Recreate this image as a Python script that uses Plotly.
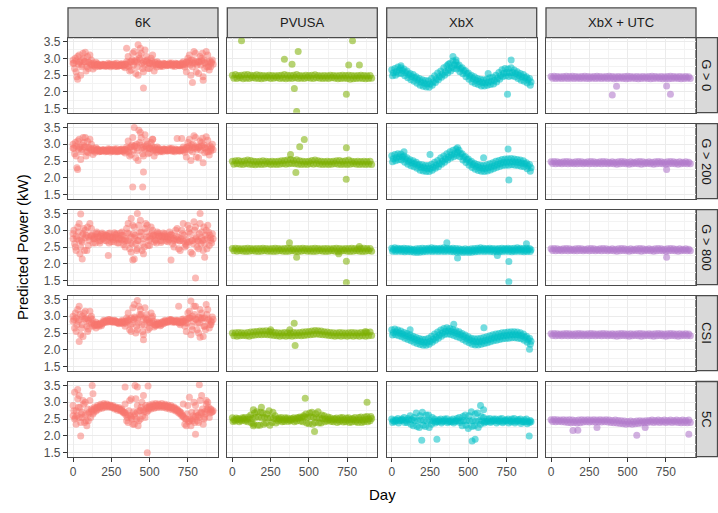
import plotly.graph_objects as go

# ---------------- data ----------------
DAYS_A = list(range(0, 901, 20))   # 46 sampling days per list
DAYS_B = list(range(10, 911, 20))
DAYS_C = list(range(5, 906, 20))
DAYS_D = list(range(15, 916, 20))
DAY_SETS = [DAYS_A, DAYS_B, DAYS_C, DAYS_D, DAYS_A]
COL_LABELS = ["6K", "PVUSA", "XbX", "XbX + UTC"]
ROW_LABELS = ["G > 0", "G > 200", "G > 800", "CSI", "5C"]
COLORS = ["#F8766D", "#7CAE00", "#00BFC4", "#B27CCB"]
X_TICKS = [0, 250, 500, 750]
Y_TICKS = [1.5, 2.0, 2.5, 3.0, 3.5]
Y_TICK_TEXT = ["1.5", "2.0", "2.5", "3.0", "3.5"]

# ---- 6K ----
K6_G0_A = [2.95, 2.6, 3.1, 2.8, 3.18, 2.7, 2.95, 2.78, 2.84, 2.78, 2.82, 2.77, 2.83, 2.79, 2.81,
           2.78, 2.84, 2.72, 3.05, 2.65, 3.2, 2.75, 3.3, 2.6, 3.05, 2.7, 3.1, 2.8, 2.86, 2.8,
           2.84, 2.79, 2.83, 2.8, 2.84, 2.78, 2.9, 2.6, 3.1, 2.75, 3.15, 2.55, 3.0, 2.7, 3.1, 2.75]
K6_G0_B = [2.7, 3.05, 2.5, 3.0, 2.75, 3.1, 2.68, 2.88, 2.76, 2.82, 2.76, 2.85, 2.78, 2.84, 2.76,
           2.83, 2.76, 2.9, 2.62, 3.15, 2.55, 3.1, 2.85, 3.25, 2.7, 3.0, 2.62, 2.9, 2.76, 2.85,
           2.78, 2.86, 2.77, 2.85, 2.78, 2.86, 2.74, 3.0, 2.5, 3.2, 2.8, 3.05, 2.45, 3.2, 2.65, 2.95]
K6_G0_C = [2.85, 2.45, 2.9, 3.15, 2.62, 2.88, 2.8, 2.74, 2.82, 2.77, 2.8, 2.81, 2.75, 2.8, 2.85,
           2.8, 2.79, 2.82, 2.75, 2.95, 2.9, 2.5, 3.15, 2.8, 2.95, 2.85, 2.8, 2.74, 2.82, 2.76,
           2.81, 2.82, 2.86, 2.76, 2.8, 2.83, 2.8, 2.9, 2.8, 2.95, 2.6, 2.9, 3.15, 2.85, 2.75, 2.88]
K6_G0_D = [3.0, 2.82, 2.75, 2.9, 3.05, 2.8, 2.86, 2.81, 2.78, 2.8, 2.79, 2.78, 2.82, 2.76, 2.79,
           2.81, 2.82, 2.78, 2.9, 2.8, 2.95, 3.0, 2.7, 2.92, 2.85, 2.92, 2.88, 2.82, 2.79, 2.83,
           2.8, 2.82, 2.8, 2.82, 2.79, 2.8, 2.82, 2.85, 2.95, 2.85, 2.9, 2.8, 2.95, 2.75, 2.92, 2.82]
K6_G0_MID = [2.85, 2.92, 2.88, 2.95, 2.9, 2.88, 2.84, 2.81, 2.8, 2.79, 2.8, 2.79, 2.81, 2.8, 2.78,
             2.78, 2.79, 2.82, 2.86, 2.9, 2.92, 2.88, 2.95, 2.9, 2.88, 2.86, 2.85, 2.83, 2.82, 2.81,
             2.82, 2.81, 2.8, 2.81, 2.82, 2.82, 2.84, 2.88, 2.92, 2.86, 2.9, 2.88, 2.93, 2.87, 2.9, 2.85]
K6_G0_OUT_D = [460, 425, 780, 350, 850, 30]
K6_G0_OUT_V = [2.12, 3.4, 2.28, 3.3, 2.35, 2.38]

K6_G200_A = [3.0, 2.65, 3.15, 2.85, 3.2, 2.75, 3.0, 2.8, 2.86, 2.8, 2.84, 2.79, 2.85, 2.8, 2.83,
             2.8, 2.86, 2.74, 3.1, 2.7, 3.5, 2.8, 3.35, 2.65, 3.1, 2.75, 3.15, 2.82, 2.88, 2.82,
             2.86, 2.8, 2.85, 2.82, 3.17, 2.8, 2.92, 2.62, 3.15, 2.78, 3.2, 2.6, 3.05, 2.75, 3.12, 2.8]
K6_G200_B = [2.72, 3.1, 2.55, 3.05, 2.78, 3.15, 2.7, 2.9, 2.78, 2.84, 2.78, 2.87, 2.8, 2.86, 2.78,
             2.85, 2.78, 2.92, 2.65, 3.2, 2.6, 3.42, 2.9, 3.28, 2.72, 3.05, 2.65, 2.92, 2.78, 2.86,
             2.8, 2.88, 2.79, 2.86, 2.8, 3.17, 2.76, 3.05, 2.52, 3.25, 2.85, 3.1, 2.45, 3.22, 2.68, 3.0]
K6_G200_C = [2.88, 2.3, 2.92, 3.2, 2.65, 2.9, 2.82, 2.76, 2.84, 2.79, 2.82, 2.83, 2.77, 2.82, 2.87,
             2.82, 2.81, 2.84, 2.77, 2.98, 2.95, 2.52, 3.2, 2.85, 3.0, 2.88, 2.82, 2.76, 2.84, 2.78,
             2.83, 2.84, 2.88, 2.78, 2.82, 2.85, 2.82, 2.92, 2.82, 3.0, 2.62, 2.92, 3.18, 2.88, 2.78, 2.9]
K6_G200_D = [3.05, 2.85, 2.78, 2.92, 3.08, 2.82, 2.88, 2.83, 2.8, 2.82, 2.81, 2.8, 2.84, 2.78, 2.81,
             2.83, 2.84, 2.8, 2.92, 2.82, 3.0, 3.05, 2.72, 2.95, 2.88, 2.95, 2.9, 2.84, 2.81, 2.85,
             2.82, 2.84, 2.82, 2.84, 2.81, 2.82, 2.84, 2.88, 2.98, 2.88, 2.92, 2.82, 2.98, 2.78, 2.95, 2.84]
K6_G200_MID = [2.88, 2.95, 2.9, 2.98, 2.92, 2.9, 2.86, 2.83, 2.82, 2.8, 2.81, 2.8, 2.82, 2.81, 2.8,
               2.79, 2.8, 2.84, 2.88, 2.92, 2.95, 2.9, 2.98, 2.92, 2.9, 2.88, 2.86, 2.84, 2.83, 2.82,
               2.83, 2.82, 2.81, 2.82, 2.83, 2.84, 2.86, 2.9, 2.95, 2.9, 2.93, 2.9, 2.95, 2.9, 2.92, 2.86]
K6_G200_OUT_D = [460, 390, 455, 30, 520]
K6_G200_OUT_V = [2.18, 1.73, 1.73, 2.25, 3.15]

K6_G800_A = [2.9, 2.4, 3.2, 2.65, 3.0, 2.55, 3.05, 2.75, 2.9, 2.7, 2.88, 2.68, 2.92, 2.72, 2.85,
             2.62, 2.95, 2.5, 3.2, 2.35, 3.1, 2.45, 3.3, 2.3, 2.95, 2.55, 3.0, 2.7, 2.92, 2.68,
             2.9, 2.66, 2.88, 2.5, 3.05, 2.4, 3.2, 2.55, 3.05, 2.3, 3.1, 2.45, 2.95, 2.6, 3.15, 2.7]
K6_G800_B = [2.6, 3.1, 2.5, 3.05, 2.4, 3.2, 2.62, 2.9, 2.68, 2.92, 2.7, 2.9, 2.66, 2.93, 2.62,
             2.92, 2.58, 3.05, 2.45, 3.15, 2.6, 3.15, 2.4, 3.05, 2.55, 3.1, 2.65, 2.95, 2.7, 2.92,
             2.68, 2.95, 2.6, 3.0, 2.45, 3.0, 2.5, 3.15, 2.35, 3.25, 2.5, 3.2, 2.4, 3.0, 2.55, 2.9]
K6_G800_C = [3.0, 2.75, 2.3, 2.9, 2.85, 2.7, 2.85, 2.62, 2.8, 2.88, 2.78, 2.84, 2.8, 2.66, 2.9,
             2.75, 2.85, 2.7, 2.9, 2.6, 2.85, 2.7, 2.95, 2.5, 3.15, 2.75, 2.85, 2.62, 2.82, 2.8,
             2.8, 2.72, 2.85, 2.7, 2.8, 2.75, 2.85, 2.65, 2.9, 2.6, 2.8, 2.9, 2.7, 2.85, 2.95, 2.62]
K6_G800_D = [2.5, 2.95, 2.7, 2.4, 3.1, 2.85, 2.75, 2.95, 2.62, 2.75, 2.85, 2.62, 2.76, 2.88, 2.72,
             2.85, 2.68, 2.92, 2.62, 2.9, 2.4, 2.95, 2.6, 3.2, 2.7, 2.9, 2.72, 2.88, 2.64, 2.86,
             2.74, 2.86, 2.7, 2.82, 2.68, 2.9, 2.6, 2.95, 2.7, 3.0, 2.7, 2.6, 3.1, 2.45, 2.85, 2.75]
K6_G800_MID = [2.75, 2.82, 2.7, 2.85, 2.78, 2.8, 2.82, 2.81, 2.8, 2.82, 2.83, 2.82, 2.8, 2.79, 2.78,
               2.76, 2.72, 2.75, 2.7, 2.8, 2.78, 2.7, 2.82, 2.75, 2.8, 2.82, 2.83, 2.84, 2.83, 2.82,
               2.82, 2.8, 2.78, 2.75, 2.72, 2.7, 2.68, 2.72, 2.65, 2.7, 2.75, 2.68, 2.78, 2.72, 2.76, 2.78]
K6_G800_OUT_D = [800, 60, 230, 640, 860, 50, 420, 830, 380, 390, 400]
K6_G800_OUT_V = [1.58, 2.15, 2.25, 2.12, 2.2, 3.48, 3.5, 3.5, 3.35, 2.12, 2.15]

K6_CSI_A = [3.0, 2.55, 3.3, 2.75, 3.15, 2.62, 3.0, 2.72, 2.78, 2.8, 2.88, 2.82, 2.9, 2.84, 2.86,
            2.78, 2.88, 2.7, 3.1, 2.55, 3.35, 2.6, 3.2, 2.45, 3.05, 2.65, 3.0, 2.72, 2.8, 2.82,
            2.88, 2.82, 2.9, 2.84, 2.88, 2.75, 2.92, 2.55, 3.15, 2.6, 3.3, 2.5, 3.1, 2.7, 3.2, 2.75]
K6_CSI_B = [2.65, 3.2, 2.45, 3.1, 2.7, 3.15, 2.7, 2.82, 2.7, 2.76, 2.82, 2.9, 2.83, 2.88, 2.8,
            2.84, 2.78, 2.95, 2.6, 3.25, 2.5, 3.3, 2.75, 3.25, 2.6, 3.1, 2.68, 2.82, 2.72, 2.78,
            2.82, 2.9, 2.82, 2.88, 2.8, 2.9, 2.7, 3.1, 2.45, 3.3, 2.6, 3.2, 2.4, 3.35, 2.65, 2.98]
K6_CSI_C = [2.9, 2.75, 3.05, 2.4, 2.95, 2.8, 2.9, 2.76, 2.75, 2.72, 2.85, 2.86, 2.86, 2.82, 2.84,
            2.82, 2.85, 2.8, 2.88, 2.78, 2.95, 2.8, 3.05, 2.75, 2.9, 2.8, 2.85, 2.76, 2.77, 2.84,
            2.86, 2.85, 2.88, 2.82, 2.86, 2.8, 2.85, 2.8, 2.95, 2.85, 2.9, 2.8, 2.95, 2.6, 2.92, 2.82]
K6_CSI_D = [3.1, 2.85, 2.65, 2.92, 2.55, 2.95, 2.78, 2.74, 2.76, 2.8, 2.87, 2.84, 2.88, 2.86, 2.82,
            2.8, 2.82, 2.86, 2.75, 2.9, 2.7, 3.05, 2.55, 2.95, 2.8, 2.95, 2.75, 2.78, 2.74, 2.8,
            2.84, 2.88, 2.86, 2.84, 2.83, 2.84, 2.8, 2.95, 2.7, 3.05, 2.8, 2.95, 2.7, 3.05, 2.75, 2.9]
K6_CSI_MID = [2.85, 2.95, 2.9, 3.0, 2.92, 2.88, 2.8, 2.74, 2.73, 2.78, 2.83, 2.86, 2.86, 2.85, 2.82,
              2.8, 2.82, 2.85, 2.9, 2.95, 2.98, 2.9, 3.0, 2.92, 2.88, 2.84, 2.8, 2.74, 2.76, 2.8,
              2.84, 2.86, 2.86, 2.85, 2.84, 2.82, 2.86, 2.9, 2.95, 3.0, 2.92, 2.98, 2.9, 2.95, 2.88, 2.85]
K6_CSI_OUT_D = [40, 150, 460, 690, 830, 420, 770]
K6_CSI_OUT_V = [2.25, 2.65, 2.3, 3.3, 2.38, 3.47, 3.45]

K6_5C_A = [2.9, 2.35, 3.2, 2.55, 3.0, 2.45, 2.8, 2.86, 2.9, 2.94, 2.96, 2.95, 2.92, 2.9, 2.86,
           2.84, 2.8, 2.95, 2.4, 3.1, 2.35, 2.9, 2.5, 3.2, 2.7, 2.92, 2.95, 2.96, 2.95, 2.96,
           2.94, 2.92, 2.9, 2.86, 2.8, 2.72, 2.95, 2.3, 3.15, 2.45, 2.9, 2.4, 3.2, 2.55, 3.0, 2.8]
K6_5C_B = [2.5, 3.1, 2.4, 2.95, 2.3, 3.05, 2.65, 2.74, 2.8, 2.82, 2.85, 2.86, 2.84, 2.8, 2.76,
           2.74, 2.68, 2.45, 3.05, 2.35, 3.1, 2.45, 3.0, 2.55, 2.75, 2.8, 2.82, 2.84, 2.85, 2.84,
           2.82, 2.8, 2.78, 2.74, 2.68, 2.6, 2.35, 2.9, 2.3, 3.0, 2.45, 3.05, 2.35, 2.95, 2.55, 2.72]
K6_5C_C = [2.75, 2.6, 2.85, 3.05, 2.45, 2.7, 2.76, 2.82, 2.86, 2.9, 2.92, 2.92, 2.9, 2.86, 2.82,
           2.8, 2.72, 2.62, 2.75, 2.5, 2.65, 2.3, 2.85, 2.72, 2.85, 2.88, 2.9, 2.92, 2.92, 2.9,
           2.9, 2.88, 2.86, 2.82, 2.76, 2.68, 2.55, 2.65, 2.5, 2.6, 2.7, 2.55, 2.8, 2.65, 2.85, 2.7]
K6_5C_D = [2.55, 2.85, 2.65, 2.4, 2.8, 2.55, 2.7, 2.78, 2.84, 2.86, 2.88, 2.88, 2.86, 2.83, 2.8,
           2.77, 2.7, 2.55, 2.6, 2.72, 2.5, 2.75, 2.6, 2.9, 2.8, 2.84, 2.86, 2.88, 2.88, 2.88,
           2.86, 2.84, 2.82, 2.78, 2.72, 2.62, 2.5, 2.42, 2.7, 2.4, 2.6, 2.7, 2.5, 2.8, 2.68, 2.75]
K6_5C_MID = [2.6, 2.75, 2.55, 2.7, 2.62, 2.65, 2.72, 2.8, 2.85, 2.88, 2.9, 2.9, 2.88, 2.85, 2.82,
             2.8, 2.75, 2.68, 2.62, 2.55, 2.6, 2.7, 2.75, 2.78, 2.82, 2.86, 2.88, 2.9, 2.9, 2.9,
             2.88, 2.86, 2.84, 2.8, 2.74, 2.66, 2.58, 2.5, 2.45, 2.5, 2.58, 2.62, 2.68, 2.72, 2.76, 2.78]
K6_5C_OUT_D = [485, 30, 10, 130, 340, 420, 870, 125, 405, 490, 825, 50, 800]
K6_5C_OUT_V = [1.5, 3.38, 3.3, 3.25, 3.45, 3.45, 3.05, 3.5, 3.5, 3.48, 3.52, 2.0, 2.05]

# ---- PVUSA ----
PV_G0_A = [2.5, 2.52, 2.49, 2.5, 2.51, 2.52, 2.5, 2.49, 2.51, 2.5, 2.49, 2.48, 2.5, 2.49, 2.48,
           2.49, 2.5, 2.52, 2.5, 2.49, 2.5, 2.52, 2.49, 2.48, 2.5, 2.49, 2.5, 2.51, 2.49, 2.48,
           2.49, 2.48, 2.5, 2.49, 2.48, 2.49, 2.5, 2.49, 2.5, 2.49, 2.48, 2.49, 2.5, 2.49, 2.48, 2.49]
PV_G0_B = [2.41, 2.4, 2.42, 2.39, 2.41, 2.4, 2.42, 2.41, 2.4, 2.39, 2.41, 2.42, 2.4, 2.41, 2.42,
           2.4, 2.41, 2.39, 2.41, 2.4, 2.42, 2.4, 2.41, 2.4, 2.42, 2.41, 2.4, 2.42, 2.41, 2.4,
           2.41, 2.4, 2.42, 2.41, 2.39, 2.4, 2.41, 2.4, 2.38, 2.39, 2.4, 2.41, 2.4, 2.39, 2.4, 2.41]
PV_G0_OUT_D = [60, 785, 430, 340, 390, 405, 745, 760, 830, 420]
PV_G0_OUT_V = [3.52, 3.52, 3.2, 2.97, 2.82, 2.1, 1.93, 2.8, 2.8, 1.42]

PV_G200_A = [2.5, 2.51, 2.52, 2.5, 2.51, 2.53, 2.52, 2.5, 2.49, 2.5, 2.51, 2.5, 2.49, 2.5, 2.49,
             2.5, 2.51, 2.52, 2.53, 2.55, 2.52, 2.54, 2.51, 2.5, 2.49, 2.5, 2.52, 2.53, 2.51, 2.5,
             2.49, 2.5, 2.49, 2.5, 2.51, 2.52, 2.5, 2.51, 2.53, 2.5, 2.49, 2.5, 2.49, 2.5, 2.49, 2.5]
PV_G200_B = [2.41, 2.42, 2.41, 2.4, 2.42, 2.41, 2.4, 2.39, 2.41, 2.4, 2.41, 2.42, 2.4, 2.41, 2.4,
             2.41, 2.42, 2.41, 2.42, 2.43, 2.42, 2.41, 2.4, 2.41, 2.4, 2.42, 2.41, 2.42, 2.41, 2.4,
             2.41, 2.4, 2.41, 2.42, 2.41, 2.4, 2.41, 2.4, 2.41, 2.42, 2.41, 2.4, 2.41, 2.4, 2.41, 2.4]
PV_G200_OUT_D = [470, 440, 745, 415, 744, 380]
PV_G200_OUT_V = [3.14, 2.93, 2.9, 2.16, 1.96, 2.7]

PV_G800_A = [2.46, 2.47, 2.46, 2.45, 2.46, 2.47, 2.46, 2.45, 2.46, 2.46, 2.47, 2.46, 2.45, 2.46, 2.47,
             2.46, 2.45, 2.46, 2.47, 2.46, 2.45, 2.46, 2.46, 2.47, 2.46, 2.45, 2.46, 2.47, 2.46, 2.45,
             2.46, 2.46, 2.45, 2.46, 2.47, 2.46, 2.45, 2.46, 2.46, 2.47, 2.46, 2.45, 2.46, 2.47, 2.46, 2.46]
PV_G800_B = [2.39, 2.38, 2.39, 2.38, 2.37, 2.38, 2.39, 2.38, 2.37, 2.38, 2.39, 2.38, 2.38, 2.37, 2.38,
             2.39, 2.38, 2.37, 2.38, 2.39, 2.38, 2.37, 2.38, 2.39, 2.38, 2.38, 2.37, 2.38, 2.39, 2.38,
             2.37, 2.38, 2.39, 2.38, 2.37, 2.38, 2.39, 2.38, 2.37, 2.38, 2.39, 2.38, 2.37, 2.38, 2.39, 2.38]
PV_G800_OUT_D = [373, 420, 695, 745, 745, 830]
PV_G800_OUT_V = [2.63, 2.2, 2.3, 2.08, 1.45, 2.52]

PV_CSI_A = [2.5, 2.51, 2.52, 2.51, 2.5, 2.52, 2.53, 2.54, 2.55, 2.56, 2.56, 2.57, 2.55, 2.53, 2.52,
            2.51, 2.5, 2.52, 2.51, 2.5, 2.52, 2.51, 2.52, 2.53, 2.54, 2.55, 2.56, 2.58, 2.57, 2.56,
            2.54, 2.53, 2.52, 2.51, 2.5, 2.52, 2.51, 2.5, 2.51, 2.52, 2.51, 2.5, 2.52, 2.51, 2.52, 2.53]
PV_CSI_B = [2.42, 2.41, 2.42, 2.43, 2.42, 2.41, 2.43, 2.44, 2.45, 2.45, 2.46, 2.45, 2.44, 2.43, 2.42,
            2.41, 2.42, 2.41, 2.42, 2.41, 2.42, 2.43, 2.42, 2.43, 2.44, 2.45, 2.46, 2.47, 2.46, 2.45,
            2.44, 2.43, 2.42, 2.41, 2.42, 2.41, 2.42, 2.41, 2.42, 2.41, 2.42, 2.41, 2.42, 2.41, 2.42, 2.43]
PV_CSI_OUT_D = [404, 410, 375, 870, 250]
PV_CSI_OUT_V = [2.79, 2.13, 2.6, 2.55, 2.6]

PV_5C_A = [2.54, 2.44, 2.52, 2.45, 2.55, 2.42, 2.62, 2.35, 2.72, 2.32, 2.68, 2.38, 2.75, 2.4, 2.6,
           2.44, 2.55, 2.43, 2.53, 2.45, 2.54, 2.44, 2.56, 2.42, 2.65, 2.36, 2.7, 2.4, 2.72, 2.38,
           2.6, 2.44, 2.54, 2.42, 2.53, 2.43, 2.55, 2.42, 2.54, 2.41, 2.55, 2.4, 2.56, 2.42, 2.58, 2.45]
PV_5C_MID = [2.48, 2.49, 2.48, 2.5, 2.49, 2.5, 2.52, 2.55, 2.56, 2.54, 2.55, 2.53, 2.54, 2.52, 2.5,
             2.49, 2.48, 2.49, 2.48, 2.49, 2.5, 2.52, 2.54, 2.56, 2.55, 2.57, 2.55, 2.54, 2.53, 2.51,
             2.5, 2.49, 2.48, 2.49, 2.48, 2.47, 2.48, 2.47, 2.49, 2.48, 2.47, 2.48, 2.47, 2.49, 2.5, 2.52]
PV_5C_B = [2.43, 2.53, 2.42, 2.54, 2.44, 2.56, 2.38, 2.68, 2.32, 2.7, 2.35, 2.65, 2.32, 2.7, 2.38,
           2.53, 2.42, 2.54, 2.43, 2.52, 2.42, 2.55, 2.44, 2.6, 2.38, 2.68, 2.35, 2.66, 2.38, 2.62,
           2.42, 2.56, 2.43, 2.52, 2.4, 2.54, 2.41, 2.53, 2.4, 2.52, 2.42, 2.55, 2.4, 2.56, 2.42, 2.58]
PV_5C_OUT_D = [476, 880, 537, 190, 137, 137]
PV_5C_OUT_V = [3.12, 3.0, 2.13, 2.85, 2.78, 2.3]

# ---- XbX ----
XB_G0_HI = [2.66, 2.7, 2.74, 2.72, 2.68, 2.62, 2.55, 2.52, 2.45, 2.4, 2.36, 2.34, 2.33, 2.4, 2.48,
            2.56, 2.62, 2.72, 2.78, 2.85, 2.92, 2.88, 2.8, 2.72, 2.64, 2.56, 2.5, 2.45, 2.4, 2.38,
            2.36, 2.38, 2.42, 2.44, 2.5, 2.58, 2.66, 2.7, 2.68, 2.72, 2.65, 2.6, 2.55, 2.52, 2.45, 2.4]
XB_G0_MID = [2.57, 2.6, 2.65, 2.64, 2.58, 2.52, 2.46, 2.42, 2.36, 2.3, 2.27, 2.24, 2.24, 2.3, 2.38,
             2.45, 2.53, 2.6, 2.66, 2.73, 2.8, 2.78, 2.7, 2.63, 2.55, 2.47, 2.4, 2.35, 2.31, 2.28,
             2.27, 2.29, 2.32, 2.34, 2.4, 2.48, 2.55, 2.58, 2.57, 2.58, 2.55, 2.5, 2.45, 2.42, 2.36, 2.3]
XB_G0_LO = [2.48, 2.5, 2.55, 2.55, 2.48, 2.42, 2.36, 2.32, 2.26, 2.2, 2.17, 2.15, 2.14, 2.2, 2.28,
            2.36, 2.44, 2.5, 2.56, 2.62, 2.7, 2.68, 2.6, 2.54, 2.45, 2.38, 2.3, 2.25, 2.22, 2.18,
            2.18, 2.2, 2.22, 2.24, 2.3, 2.38, 2.45, 2.48, 2.46, 2.48, 2.45, 2.4, 2.35, 2.32, 2.27, 2.2]
XB_G0_OUT_D = [756, 400, 420, 780, 630, 370, 60]
XB_G0_OUT_V = [1.93, 3.05, 2.95, 2.95, 2.55, 2.82, 2.78]

XB_G200_HI = [2.66, 2.7, 2.72, 2.71, 2.65, 2.6, 2.54, 2.51, 2.47, 2.41, 2.39, 2.37, 2.37, 2.41, 2.47,
              2.52, 2.6, 2.65, 2.72, 2.78, 2.82, 2.86, 2.82, 2.72, 2.64, 2.56, 2.5, 2.44, 2.4, 2.38,
              2.37, 2.39, 2.42, 2.45, 2.5, 2.52, 2.55, 2.56, 2.57, 2.58, 2.56, 2.55, 2.53, 2.51, 2.45, 2.4]
XB_G200_MID = [2.57, 2.6, 2.63, 2.62, 2.56, 2.5, 2.45, 2.42, 2.38, 2.32, 2.3, 2.28, 2.28, 2.32, 2.38,
               2.42, 2.5, 2.56, 2.62, 2.68, 2.72, 2.76, 2.72, 2.62, 2.55, 2.47, 2.4, 2.35, 2.31, 2.29,
               2.28, 2.3, 2.33, 2.36, 2.4, 2.43, 2.46, 2.47, 2.47, 2.48, 2.47, 2.46, 2.44, 2.42, 2.36, 2.3]
XB_G200_LO = [2.48, 2.51, 2.54, 2.53, 2.47, 2.41, 2.36, 2.33, 2.29, 2.23, 2.21, 2.19, 2.19, 2.23, 2.29,
              2.33, 2.41, 2.47, 2.53, 2.59, 2.63, 2.67, 2.63, 2.53, 2.46, 2.38, 2.31, 2.26, 2.22, 2.2,
              2.19, 2.21, 2.24, 2.27, 2.31, 2.34, 2.37, 2.38, 2.38, 2.39, 2.38, 2.37, 2.35, 2.33, 2.27, 2.2]
XB_G200_OUT_D = [765, 760, 430, 250, 600, 80]
XB_G200_OUT_V = [1.94, 2.86, 2.9, 2.7, 2.6, 2.78]

XB_G800_HI = [2.47, 2.48, 2.47, 2.46, 2.47, 2.46, 2.45, 2.44, 2.45, 2.46, 2.47, 2.46, 2.47, 2.48, 2.47,
              2.46, 2.47, 2.48, 2.47, 2.46, 2.47, 2.46, 2.45, 2.44, 2.45, 2.44, 2.45, 2.46, 2.47, 2.48,
              2.47, 2.46, 2.47, 2.46, 2.45, 2.46, 2.47, 2.46, 2.47, 2.46, 2.47, 2.48, 2.47, 2.46, 2.47, 2.46]
XB_G800_MID = [2.43, 2.42, 2.43, 2.42, 2.41, 2.42, 2.41, 2.4, 2.39, 2.4, 2.41, 2.42, 2.43, 2.42, 2.43,
               2.42, 2.43, 2.42, 2.43, 2.42, 2.41, 2.4, 2.4, 2.39, 2.4, 2.39, 2.4, 2.41, 2.42, 2.43,
               2.42, 2.43, 2.42, 2.41, 2.42, 2.41, 2.42, 2.43, 2.42, 2.41, 2.42, 2.43, 2.42, 2.41, 2.42, 2.42]
XB_G800_LO = [2.38, 2.37, 2.38, 2.37, 2.36, 2.37, 2.36, 2.35, 2.34, 2.35, 2.36, 2.37, 2.38, 2.37, 2.38,
              2.37, 2.38, 2.37, 2.38, 2.37, 2.36, 2.35, 2.35, 2.34, 2.35, 2.34, 2.35, 2.36, 2.37, 2.38,
              2.37, 2.38, 2.37, 2.36, 2.37, 2.36, 2.37, 2.38, 2.37, 2.36, 2.37, 2.38, 2.37, 2.36, 2.37, 2.37]
XB_G800_OUT_D = [360, 430, 690, 765, 765, 880]
XB_G800_OUT_V = [2.63, 2.18, 2.25, 2.07, 1.47, 2.6]

XB_CSI_HI = [2.6, 2.62, 2.59, 2.56, 2.52, 2.49, 2.45, 2.41, 2.37, 2.34, 2.32, 2.32, 2.35, 2.41, 2.47,
             2.53, 2.59, 2.64, 2.66, 2.64, 2.61, 2.57, 2.54, 2.49, 2.44, 2.39, 2.35, 2.33, 2.33, 2.35,
             2.37, 2.39, 2.42, 2.45, 2.47, 2.49, 2.51, 2.52, 2.53, 2.54, 2.54, 2.53, 2.51, 2.47, 2.41, 2.35]
XB_CSI_MID = [2.52, 2.53, 2.5, 2.47, 2.43, 2.4, 2.36, 2.32, 2.28, 2.25, 2.23, 2.23, 2.26, 2.32, 2.38,
              2.44, 2.5, 2.55, 2.56, 2.55, 2.52, 2.48, 2.45, 2.4, 2.35, 2.3, 2.26, 2.24, 2.24, 2.26,
              2.28, 2.3, 2.33, 2.36, 2.38, 2.4, 2.42, 2.43, 2.44, 2.45, 2.45, 2.44, 2.42, 2.38, 2.32, 2.26]
XB_CSI_LO = [2.44, 2.45, 2.42, 2.39, 2.35, 2.31, 2.27, 2.23, 2.19, 2.16, 2.14, 2.14, 2.17, 2.23, 2.29,
             2.35, 2.41, 2.46, 2.47, 2.46, 2.43, 2.39, 2.36, 2.31, 2.26, 2.21, 2.17, 2.15, 2.15, 2.17,
             2.19, 2.21, 2.24, 2.27, 2.29, 2.31, 2.33, 2.34, 2.35, 2.36, 2.36, 2.35, 2.33, 2.29, 2.23, 2.17]
XB_CSI_OUT_D = [405, 602, 900, 120]
XB_CSI_OUT_V = [2.76, 2.66, 2.02, 2.6]

XB_5C_HI = [2.5, 2.42, 2.52, 2.46, 2.55, 2.4, 2.6, 2.3, 2.68, 2.25, 2.7, 2.28, 2.62, 2.35, 2.5,
            2.42, 2.5, 2.44, 2.51, 2.43, 2.5, 2.45, 2.55, 2.3, 2.62, 2.22, 2.72, 2.3, 2.68, 2.35,
            2.55, 2.42, 2.52, 2.45, 2.5, 2.43, 2.52, 2.45, 2.5, 2.42, 2.52, 2.44, 2.5, 2.42, 2.5, 2.4]
XB_5C_MID = [2.45, 2.46, 2.45, 2.47, 2.46, 2.47, 2.48, 2.46, 2.45, 2.47, 2.46, 2.44, 2.45, 2.44, 2.43,
             2.44, 2.43, 2.44, 2.43, 2.42, 2.43, 2.44, 2.45, 2.46, 2.44, 2.45, 2.46, 2.44, 2.45, 2.44,
             2.43, 2.44, 2.43, 2.44, 2.45, 2.44, 2.43, 2.44, 2.45, 2.44, 2.43, 2.44, 2.43, 2.42, 2.43, 2.42]
XB_5C_LO = [2.4, 2.48, 2.38, 2.5, 2.4, 2.52, 2.35, 2.55, 2.28, 2.6, 2.32, 2.62, 2.25, 2.55, 2.38,
            2.48, 2.38, 2.5, 2.39, 2.47, 2.38, 2.52, 2.4, 2.58, 2.32, 2.6, 2.28, 2.65, 2.25, 2.58,
            2.38, 2.5, 2.4, 2.5, 2.38, 2.5, 2.39, 2.48, 2.38, 2.5, 2.38, 2.49, 2.37, 2.48, 2.36, 2.46]
XB_5C_OUT_D = [196, 295, 525, 545, 580, 600, 898]
XB_5C_OUT_V = [1.87, 1.9, 1.85, 1.9, 2.9, 2.78, 2.0]

# ---- XbX + UTC ----
UT_G0_A = [2.46, 2.47, 2.46, 2.45, 2.46, 2.47, 2.46, 2.47, 2.46, 2.45, 2.46, 2.47, 2.46, 2.45, 2.46,
           2.47, 2.46, 2.45, 2.46, 2.47, 2.46, 2.45, 2.46, 2.45, 2.46, 2.47, 2.46, 2.45, 2.46, 2.45,
           2.46, 2.45, 2.46, 2.47, 2.46, 2.45, 2.46, 2.45, 2.46, 2.47, 2.46, 2.45, 2.46, 2.45, 2.46, 2.45]
UT_G0_B = [2.41, 2.4, 2.41, 2.4, 2.41, 2.4, 2.41, 2.4, 2.41, 2.4, 2.41, 2.4, 2.4, 2.41, 2.4,
           2.41, 2.4, 2.41, 2.4, 2.41, 2.39, 2.4, 2.41, 2.4, 2.39, 2.4, 2.41, 2.4, 2.39, 2.4,
           2.41, 2.4, 2.39, 2.4, 2.41, 2.4, 2.39, 2.4, 2.39, 2.4, 2.41, 2.4, 2.39, 2.4, 2.41, 2.4]
UT_G0_OUT_D = [400, 428, 780, 755]
UT_G0_OUT_V = [1.91, 2.17, 1.93, 2.18]

UT_G200_A = [2.48, 2.49, 2.48, 2.47, 2.48, 2.49, 2.48, 2.47, 2.48, 2.49, 2.48, 2.47, 2.48, 2.49, 2.48,
             2.47, 2.48, 2.49, 2.48, 2.47, 2.48, 2.47, 2.48, 2.49, 2.48, 2.47, 2.48, 2.47, 2.48, 2.49,
             2.48, 2.47, 2.48, 2.47, 2.48, 2.49, 2.48, 2.47, 2.48, 2.49, 2.48, 2.47, 2.48, 2.47, 2.48, 2.47]
UT_G200_B = [2.43, 2.42, 2.43, 2.42, 2.43, 2.42, 2.43, 2.42, 2.42, 2.43, 2.42, 2.43, 2.42, 2.43, 2.42,
             2.43, 2.42, 2.43, 2.42, 2.43, 2.42, 2.41, 2.42, 2.43, 2.42, 2.41, 2.42, 2.43, 2.42, 2.41,
             2.42, 2.43, 2.42, 2.41, 2.42, 2.43, 2.42, 2.41, 2.42, 2.43, 2.42, 2.41, 2.42, 2.43, 2.42, 2.42]
UT_G200_OUT_D = [755]
UT_G200_OUT_V = [2.25]

UT_G800_A = [2.45, 2.46, 2.45, 2.44, 2.45, 2.46, 2.45, 2.44, 2.45, 2.46, 2.45, 2.44, 2.45, 2.46, 2.45,
             2.44, 2.45, 2.46, 2.45, 2.44, 2.45, 2.44, 2.45, 2.46, 2.45, 2.44, 2.45, 2.44, 2.45, 2.46,
             2.45, 2.44, 2.45, 2.44, 2.45, 2.46, 2.45, 2.44, 2.45, 2.46, 2.45, 2.44, 2.45, 2.44, 2.45, 2.44]
UT_G800_B = [2.4, 2.39, 2.4, 2.39, 2.4, 2.39, 2.4, 2.39, 2.39, 2.4, 2.39, 2.4, 2.39, 2.4, 2.39,
             2.4, 2.39, 2.4, 2.39, 2.4, 2.39, 2.38, 2.39, 2.4, 2.39, 2.38, 2.39, 2.4, 2.39, 2.38,
             2.39, 2.4, 2.39, 2.38, 2.39, 2.4, 2.39, 2.38, 2.39, 2.4, 2.39, 2.38, 2.39, 2.4, 2.39, 2.39]
UT_G800_OUT_D = [755]
UT_G800_OUT_V = [2.2]

UT_CSI_A = [2.48, 2.49, 2.48, 2.47, 2.48, 2.49, 2.48, 2.47, 2.48, 2.49, 2.48, 2.47, 2.48, 2.49, 2.48,
            2.47, 2.48, 2.49, 2.48, 2.47, 2.48, 2.47, 2.48, 2.49, 2.48, 2.47, 2.48, 2.47, 2.48, 2.49,
            2.48, 2.47, 2.48, 2.47, 2.48, 2.49, 2.48, 2.47, 2.48, 2.49, 2.48, 2.47, 2.48, 2.47, 2.48, 2.47]
UT_CSI_B = [2.43, 2.42, 2.43, 2.42, 2.43, 2.42, 2.43, 2.42, 2.42, 2.43, 2.42, 2.43, 2.42, 2.43, 2.42,
            2.43, 2.42, 2.43, 2.42, 2.43, 2.42, 2.41, 2.42, 2.43, 2.42, 2.41, 2.42, 2.43, 2.42, 2.41,
            2.42, 2.43, 2.42, 2.41, 2.42, 2.43, 2.42, 2.41, 2.42, 2.43, 2.42, 2.41, 2.42, 2.43, 2.42, 2.42]
UT_CSI_OUT_D = []
UT_CSI_OUT_V = []

UT_5C_A = [2.48, 2.49, 2.48, 2.47, 2.48, 2.47, 2.48, 2.47, 2.46, 2.47, 2.48, 2.47, 2.48, 2.47, 2.48,
           2.47, 2.48, 2.47, 2.48, 2.47, 2.46, 2.47, 2.46, 2.45, 2.44, 2.43, 2.44, 2.43, 2.44, 2.45,
           2.44, 2.45, 2.46, 2.47, 2.46, 2.47, 2.46, 2.47, 2.46, 2.47, 2.46, 2.47, 2.46, 2.47, 2.46, 2.47]
UT_5C_B = [2.43, 2.42, 2.43, 2.42, 2.41, 2.4, 2.39, 2.4, 2.38, 2.39, 2.41, 2.42, 2.41, 2.42, 2.41,
           2.42, 2.41, 2.42, 2.41, 2.4, 2.39, 2.38, 2.37, 2.36, 2.35, 2.36, 2.35, 2.36, 2.37, 2.38,
           2.39, 2.4, 2.41, 2.4, 2.41, 2.4, 2.41, 2.4, 2.41, 2.4, 2.41, 2.4, 2.39, 2.4, 2.39, 2.4]
UT_5C_OUT_D = [143, 175, 560, 615, 900, 300]
UT_5C_OUT_V = [2.16, 2.17, 2.02, 2.25, 2.05, 2.25]

# ---------------- assemble panels ----------------
PANELS = [
    [([K6_G0_A, K6_G0_B, K6_G0_C, K6_G0_D, K6_G0_MID], K6_G0_OUT_D, K6_G0_OUT_V),
     ([PV_G0_A, PV_G0_B], PV_G0_OUT_D, PV_G0_OUT_V),
     ([XB_G0_HI, XB_G0_MID, XB_G0_LO], XB_G0_OUT_D, XB_G0_OUT_V),
     ([UT_G0_A, UT_G0_B], UT_G0_OUT_D, UT_G0_OUT_V)],
    [([K6_G200_A, K6_G200_B, K6_G200_C, K6_G200_D, K6_G200_MID], K6_G200_OUT_D, K6_G200_OUT_V),
     ([PV_G200_A, PV_G200_B], PV_G200_OUT_D, PV_G200_OUT_V),
     ([XB_G200_HI, XB_G200_MID, XB_G200_LO], XB_G200_OUT_D, XB_G200_OUT_V),
     ([UT_G200_A, UT_G200_B], UT_G200_OUT_D, UT_G200_OUT_V)],
    [([K6_G800_A, K6_G800_B, K6_G800_C, K6_G800_D, K6_G800_MID], K6_G800_OUT_D, K6_G800_OUT_V),
     ([PV_G800_A, PV_G800_B], PV_G800_OUT_D, PV_G800_OUT_V),
     ([XB_G800_HI, XB_G800_MID, XB_G800_LO], XB_G800_OUT_D, XB_G800_OUT_V),
     ([UT_G800_A, UT_G800_B], UT_G800_OUT_D, UT_G800_OUT_V)],
    [([K6_CSI_A, K6_CSI_B, K6_CSI_C, K6_CSI_D, K6_CSI_MID], K6_CSI_OUT_D, K6_CSI_OUT_V),
     ([PV_CSI_A, PV_CSI_B], PV_CSI_OUT_D, PV_CSI_OUT_V),
     ([XB_CSI_HI, XB_CSI_MID, XB_CSI_LO], XB_CSI_OUT_D, XB_CSI_OUT_V),
     ([UT_CSI_A, UT_CSI_B], UT_CSI_OUT_D, UT_CSI_OUT_V)],
    [([K6_5C_A, K6_5C_B, K6_5C_C, K6_5C_D, K6_5C_MID], K6_5C_OUT_D, K6_5C_OUT_V),
     ([PV_5C_A, PV_5C_MID, PV_5C_B], PV_5C_OUT_D, PV_5C_OUT_V),
     ([XB_5C_HI, XB_5C_MID, XB_5C_LO], XB_5C_OUT_D, XB_5C_OUT_V),
     ([UT_5C_A, UT_5C_B], UT_5C_OUT_D, UT_5C_OUT_V)],
]
OPACITY = [0.5, 0.55, 0.55, 0.6]

# ---------------- layout geometry (pixels) ----------------
W, H = 718, 513
COL_X0 = [68, 227.3, 386.7, 546]
COL_W = 150
ROW_Y0 = [35, 122, 209, 296, 383]
ROW_H = 76
STRIP_TOP = 5
STRIP_RIGHT_X1 = 718

FONT = "Liberation Sans, Arial, Helvetica, sans-serif"
GRID = "#EBEBEB"
GRID_MINOR = "#F3F3F3"
BORDER = "#4A4A4A"
STRIP_FILL = "#D9D9D9"


def px(x):
    return x / W


def py(y):
    return 1 - y / H


fig = go.Figure()
layout = dict(
    width=W, height=H, margin=dict(l=0, r=0, t=0, b=0),
    paper_bgcolor="white", plot_bgcolor="white", showlegend=False,
    font=dict(family=FONT, color="#4D4D4D", size=11),
)
shapes = []
annotations = []

for r in range(5):
    for c in range(4):
        k = r * 4 + c + 1
        xa = "x" if k == 1 else f"x{k}"
        ya = "y" if k == 1 else f"y{k}"
        lists, od, ov = PANELS[r][c]
        xs, ys = [], []
        for j, lst in enumerate(lists):
            xs += DAY_SETS[j]
            ys += lst
        xs += od
        ys += ov
        fig.add_trace(go.Scatter(
            x=xs, y=ys, mode="markers", xaxis=xa, yaxis=ya,
            marker=dict(color=COLORS[c], size=7, opacity=OPACITY[c], line=dict(width=0)),
            hoverinfo="skip"))
        x0, x1 = COL_X0[c], COL_X0[c] + COL_W
        y0, y1 = ROW_Y0[r], ROW_Y0[r] + ROW_H
        layout["xaxis" if k == 1 else f"xaxis{k}"] = dict(
            domain=[px(x0), px(x1)], anchor=ya, range=[-33, 947],
            tickvals=X_TICKS, ticktext=[str(v) for v in X_TICKS],
            showticklabels=(r == 4), ticks="outside" if r == 4 else "",
            ticklen=4, tickwidth=1, tickcolor="#333333",
            tickfont=dict(size=12, color="#4D4D4D", family=FONT),
            showgrid=True, gridcolor=GRID, gridwidth=1,
            minor=dict(tickvals=[125, 375, 625, 875], showgrid=True,
                       gridcolor=GRID_MINOR, gridwidth=0.6),
            showline=True, mirror=True, linecolor=BORDER, linewidth=1.3,
            zeroline=False, fixedrange=True)
        layout["yaxis" if k == 1 else f"yaxis{k}"] = dict(
            domain=[py(y1), py(y0)], anchor=xa, range=[1.385, 3.615],
            tickvals=Y_TICKS, ticktext=Y_TICK_TEXT,
            showticklabels=(c == 0), ticks="outside" if c == 0 else "",
            ticklen=4, tickwidth=1, tickcolor="#333333",
            tickfont=dict(size=12, color="#4D4D4D", family=FONT),
            showgrid=True, gridcolor=GRID, gridwidth=1,
            minor=dict(tickvals=[1.75, 2.25, 2.75, 3.25], showgrid=True,
                       gridcolor=GRID_MINOR, gridwidth=0.6),
            showline=True, mirror=True, linecolor=BORDER, linewidth=1.3,
            zeroline=False, fixedrange=True)

# top strips
for c, lab in enumerate(COL_LABELS):
    x0, x1 = COL_X0[c], COL_X0[c] + COL_W
    shapes.append(dict(type="rect", xref="paper", yref="paper",
                       x0=px(x0), x1=px(x1), y0=py(ROW_Y0[0]), y1=py(STRIP_TOP),
                       fillcolor=STRIP_FILL, line=dict(color=BORDER, width=1.3), layer="below"))
    annotations.append(dict(text=lab, xref="paper", yref="paper",
                            x=px((x0 + x1) / 2), y=py((STRIP_TOP + ROW_Y0[0]) / 2),
                            showarrow=False, xanchor="center", yanchor="middle",
                            font=dict(size=13, color="#1A1A1A", family=FONT)))
# right strips
rx0 = COL_X0[3] + COL_W
for r, lab in enumerate(ROW_LABELS):
    y0, y1 = ROW_Y0[r], ROW_Y0[r] + ROW_H
    shapes.append(dict(type="rect", xref="paper", yref="paper",
                       x0=px(rx0), x1=px(STRIP_RIGHT_X1 - 0.5), y0=py(y1), y1=py(y0),
                       fillcolor=STRIP_FILL, line=dict(color=BORDER, width=1.3), layer="below"))
    annotations.append(dict(text=lab, xref="paper", yref="paper",
                            x=px((rx0 + STRIP_RIGHT_X1) / 2), y=py((y0 + y1) / 2),
                            showarrow=False, xanchor="center", yanchor="middle", textangle=90,
                            font=dict(size=13, color="#1A1A1A", family=FONT)))

# axis titles
annotations.append(dict(text="Predicted Power (kW)", xref="paper", yref="paper",
                        x=px(22), y=py((ROW_Y0[0] + ROW_Y0[4] + ROW_H) / 2),
                        showarrow=False, textangle=-90, xanchor="center", yanchor="middle",
                        font=dict(size=15, color="#000000", family=FONT)))
annotations.append(dict(text="Day", xref="paper", yref="paper",
                        x=px((COL_X0[0] + COL_X0[3] + COL_W) / 2), y=py(497),
                        showarrow=False, xanchor="center", yanchor="middle",
                        font=dict(size=15, color="#000000", family=FONT)))

layout["shapes"] = shapes
layout["annotations"] = annotations
fig.update_layout(**layout)
fig.write_html("out.html")
